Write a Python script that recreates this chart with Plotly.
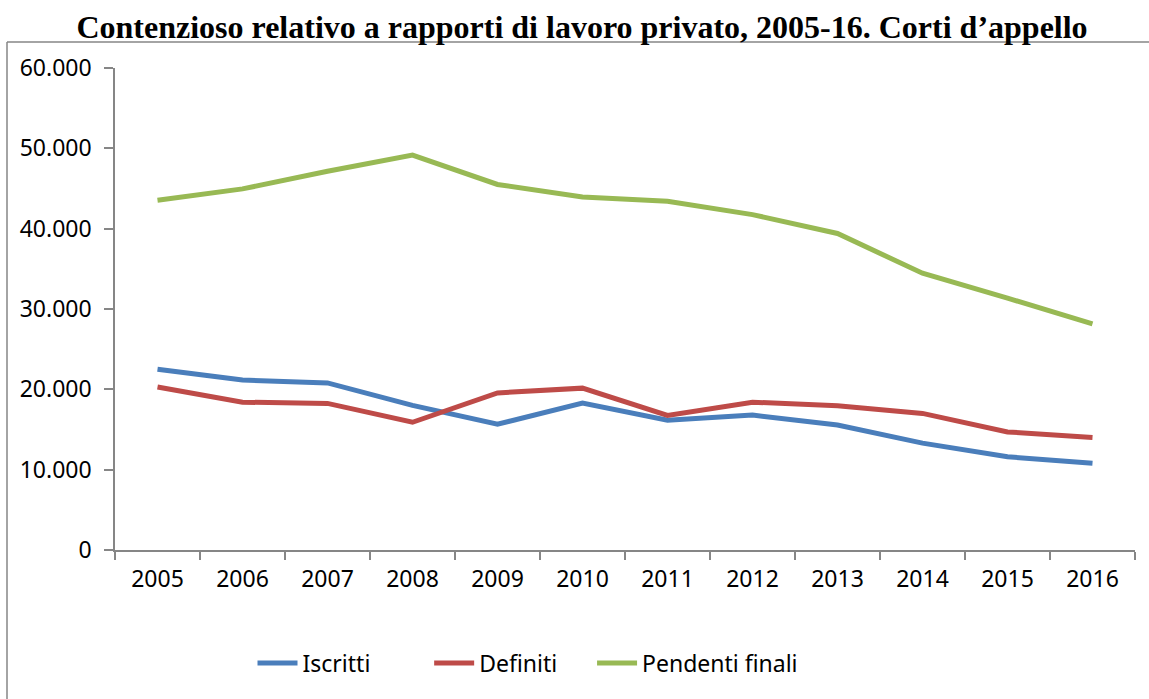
import plotly.graph_objects as go

years = ["2005", "2006", "2007", "2008", "2009", "2010", "2011", "2012", "2013", "2014", "2015", "2016"]
iscritti = [22500, 21150, 20800, 18000, 15650, 18300, 16150, 16800, 15550, 13300, 11600, 10800]
definiti = [20300, 18400, 18250, 15900, 19550, 20150, 16750, 18400, 17950, 17000, 14700, 14000]
pendenti = [43550, 44950, 47150, 49150, 45500, 43950, 43400, 41750, 39400, 34450, 31350, 28150]

series = [
    ("Iscritti", iscritti, "#4a7ebb", "\u00a0" * 9),
    ("Definiti", definiti, "#be4b48", "\u00a0" * 5),
    ("Pendenti finali", pendenti, "#98b954", ""),
]

fig = go.Figure()
for name, vals, col, pad in series:
    fig.add_trace(go.Scatter(x=years, y=vals, name=name + pad, mode="lines",
                             line=dict(color=col, width=5)))

L, R, T, B = 115, 1135, 68, 550
W, H = 1149, 699
pw, ph = R - L, B - T

border = dict(color="#868686", width=1.5)
fig.update_layout(
    width=W, height=H,
    margin=dict(l=L, r=W - R, t=T, b=H - B, pad=0, autoexpand=False),
    paper_bgcolor="white", plot_bgcolor="white",
    separators=",.",
    title=dict(text="<b>Contenzioso relativo a rapporti di lavoro privato, 2005-16. Corti d’appello</b>",
               x=582 / W, xanchor="center", xref="container",
               y=1 - 27 / H, yanchor="middle", yref="container",
               font=dict(family="Liberation Serif", size=32, color="black")),
    font=dict(family="Noto Sans", size=23, color="black"),
    showlegend=True,
    legend=dict(orientation="h", xref="container", x=528 / W, xanchor="center",
                yref="container", y=1 - 663 / H, yanchor="middle",
                font=dict(family="Noto Sans", size=23, color="black"),
                itemwidth=40, tracegroupgap=0, bgcolor="rgba(0,0,0,0)"),
    xaxis=dict(type="category", range=[-0.5, 11.5], showgrid=False, showline=True,
               linecolor="#868686", linewidth=1.5,
               ticks="outside", tickson="boundaries", ticklen=8, tickcolor="#868686", tickwidth=1.5,
               tickfont=dict(family="Noto Sans", size=23), ticklabelstandoff=8, zeroline=False),
    yaxis=dict(range=[0, 60000], tickvals=[0, 10000, 20000, 30000, 40000, 50000, 60000],
               tickformat=",d", showgrid=False, showline=True, linecolor="#868686", linewidth=1.5,
               ticks="outside", ticklen=9, tickcolor="#868686", tickwidth=1.5,
               tickfont=dict(family="Noto Sans", size=23), ticklabelstandoff=8, zeroline=False),
    shapes=[
        dict(type="line", xref="paper", yref="paper",
             x0=(7 - L) / pw, x1=(W - L) / pw, y0=(B - 42) / ph, y1=(B - 42) / ph,
             line=border, layer="below"),
        dict(type="line", xref="paper", yref="paper",
             x0=(7 - L) / pw, x1=(7 - L) / pw, y0=(B - 42) / ph, y1=(B - H) / ph,
             line=border, layer="below"),
    ],
)

fig.write_html("out.html")
